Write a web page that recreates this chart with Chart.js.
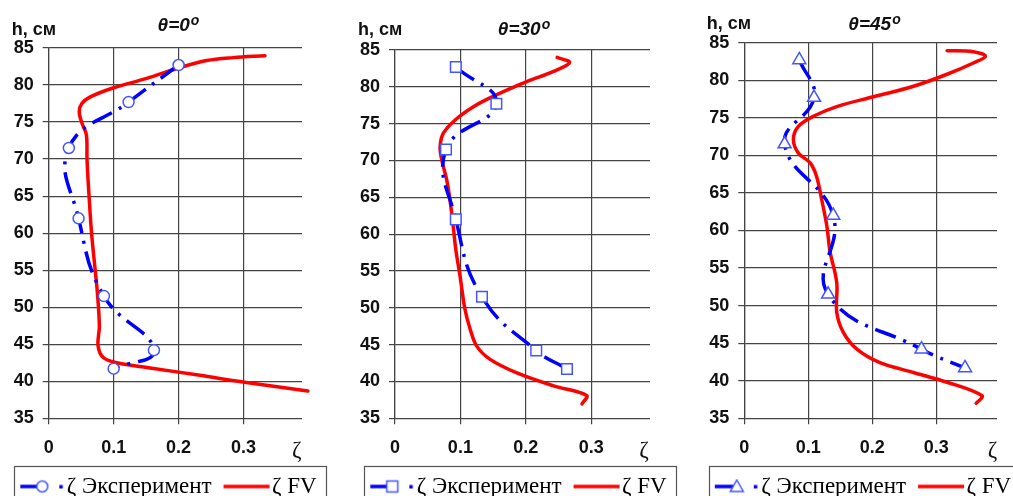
<!DOCTYPE html>
<html>
<head>
<meta charset="utf-8">
<script src="https://cdn.jsdelivr.net/npm/chart.js@4.4.1/dist/chart.umd.min.js"></script>
<style>
html, body { margin: 0; padding: 0; background: #fff; }
body { width: 1013px; height: 496px; overflow: hidden; position: relative; }
canvas { position: absolute; top: 0; }
</style>
</head>
<body>
<canvas id="p0" width="350" height="508" style="left:-10px"></canvas>
<canvas id="p30" width="350" height="508" style="left:340px"></canvas>
<canvas id="p45" width="339" height="508" style="left:690px"></canvas>
<script>
// heights of the measuring points, cm
const expH = [82.7, 77.7, 71.5, 62, 51.5, 44.2, 41.7];

// experiment, zeta at each height
const expZeta0 = [0.200, 0.123, 0.031, 0.046, 0.085, 0.162, 0.100];
const expZeta30 = [0.093, 0.155, 0.078, 0.093, 0.133, 0.216, 0.263];
const expZeta45 = [0.086, 0.109, 0.063, 0.139, 0.131, 0.277, 0.345];

// FV computation
const fvZeta0 = [0.333, 0.284, 0.243, 0.200, 0.151, 0.099, 0.064, 0.051, 0.047, 0.051, 0.058, 0.059, 0.0625, 0.066, 0.071, 0.075, 0.078, 0.076, 0.084, 0.105, 0.156, 0.233, 0.299, 0.399];
const fvH0 = [83.96, 83.7, 83.3, 82.3, 80.9, 79.6, 78.4, 77.5, 76.4, 74.9, 73.3, 69.9, 64.5, 60, 55.5, 51.9, 47.4, 44.8, 43.2, 42.5, 41.8, 40.8, 39.9, 38.7];

const fvZeta30 = [0.248, 0.267, 0.2425, 0.2015, 0.150, 0.120, 0.092, 0.074, 0.069, 0.0715, 0.079, 0.084, 0.089, 0.093, 0.0995, 0.107, 0.115, 0.125, 0.1455, 0.1855, 0.2425, 0.293, 0.286];
const fvH30 = [84.0, 83.3, 82.1, 80.7, 78.7, 77.3, 75.5, 73.7, 71.9, 70.1, 67.4, 64.7, 61.1, 57.9, 54.3, 49.8, 47.1, 44.8, 43.0, 41.2, 39.4, 38.1, 36.95];

const fvZeta45 = [0.317, 0.358, 0.377, 0.358, 0.317, 0.2645, 0.202, 0.1445, 0.108, 0.0845, 0.0767, 0.0845, 0.103, 0.113, 0.121, 0.129, 0.134, 0.1445, 0.1445, 0.155, 0.176, 0.212, 0.2645, 0.317, 0.3715, 0.3625];
const fvH45 = [83.94, 83.8, 83.2, 82.3, 80.8, 79.2, 77.8, 76.5, 75.2, 73.85, 72.1, 70.3, 69.0, 67.2, 64.1, 60.6, 57.2, 53.05, 49.1, 46.4, 44.2, 42.4, 41.1, 39.8, 38.0, 37.0];

const xTickValues = [0, 0.1, 0.2, 0.3];
const legendTexts = ['ζ Эксперимент', 'ζ FV'];

const BLUE = '#0000ff';
const MARK = '#4455ff';
const RED = '#ff0000';
const GRID = '#444';
const SANS = '"Liberation Sans", Arial, sans-serif';
const SERIF = '"Liberation Serif", "Times New Roman", serif';

function toPoints(xs, ys) {
    return xs.map((x, i) => ({ x: x, y: ys[i] }));
}

function drawMarker(ctx, style, x, y) {
    ctx.fillStyle = '#fff';
    ctx.strokeStyle = MARK;
    ctx.lineWidth = 1.5;
    ctx.beginPath();
    if (style === 'circle') {
        ctx.arc(x, y, 5.5, 0, Math.PI * 2);
    } else if (style === 'rect') {
        ctx.rect(x - 5.5, y - 5.5, 11, 11);
    } else {
        ctx.moveTo(x, y - 6.5);
        ctx.lineTo(x + 6.5, y + 5);
        ctx.lineTo(x - 6.5, y + 5);
        ctx.closePath();
    }
    ctx.fill();
    ctx.stroke();
}

// legend symbols: image spans 11px left of the item box to the text start
function legendImage(kind, marker) {
    const c = document.createElement('canvas');
    c.width = 64;
    c.height = 16;
    const g = c.getContext('2d');
    if (kind === 'exp') {
        g.strokeStyle = BLUE;
        g.lineWidth = 3.5;
        g.beginPath();
        g.moveTo(18, 8);
        g.lineTo(40, 8);
        g.stroke();
        drawMarker(g, marker, 40, 8);
        g.fillStyle = BLUE;
        g.fillRect(57, 6.5, 3.5, 3.5);
    } else {
        g.strokeStyle = RED;
        g.lineWidth = 3.5;
        g.beginPath();
        g.moveTo(16, 8);
        g.lineTo(62, 8);
        g.stroke();
    }
    return c;
}

const decoPlugin = {
    id: 'deco',
    afterDraw(chart, args, opts) {
        const ctx = chart.ctx;
        ctx.save();
        ctx.fillStyle = '#111';
        ctx.textAlign = 'left';
        ctx.textBaseline = 'alphabetic';
        ctx.font = 'bold 18px ' + SANS;
        ctx.fillText('h, см', opts.hx, opts.hy);

        const main = 'θ=' + opts.angle;
        ctx.font = 'italic bold 19px ' + SANS;
        const wMain = ctx.measureText(main).width;
        ctx.font = 'italic bold 14px ' + SANS;
        const wSup = ctx.measureText('o').width;
        const x0 = opts.tx - (wMain + wSup) / 2;
        ctx.font = 'italic bold 19px ' + SANS;
        ctx.fillText(main, x0, opts.ty);
        ctx.font = 'italic bold 14px ' + SANS;
        ctx.fillText('o', x0 + wMain + 1, opts.ty - 6);

        const boxes = chart.legend.legendHitBoxes;
        if (boxes && boxes.length) {
            const first = boxes[0];
            const last = boxes[boxes.length - 1];
            const left = Math.round(first.left + 1) + 0.5;
            const top = Math.round(first.top - 9) + 0.5;
            const right = Math.round(last.left + last.width + 9) + 0.5;
            ctx.strokeStyle = '#555';
            ctx.lineWidth = 1.2;
            ctx.strokeRect(left, top, right - left, 60);
        }
        ctx.restore();
    }
};

function makePanel(id, cfg) {
    const zetaPos = cfg.zetaPos;
    const ctx = document.getElementById(id).getContext('2d');
    const imgExp = legendImage('exp', cfg.marker);
    const imgFv = legendImage('fv');
    return new Chart(ctx, {
        type: 'scatter',
        data: {
            datasets: [{
                label: legendTexts[0],
                data: toPoints(cfg.expZeta, expH),
                showLine: true,
                borderColor: BLUE,
                borderWidth: 3.5,
                borderDash: [22, 8, 3, 8],
                borderCapStyle: 'butt',
                tension: 0.45,
                pointStyle: cfg.marker,
                pointRadius: cfg.radius,
                pointBackgroundColor: '#fff',
                pointBorderColor: MARK,
                pointBorderWidth: 1.5,
                order: 0
            }, {
                label: legendTexts[1],
                data: toPoints(cfg.fvZeta, cfg.fvH),
                showLine: true,
                borderColor: RED,
                borderWidth: 3.5,
                borderCapStyle: 'round',
                tension: 0.35,
                pointRadius: 0,
                clip: false,
                order: 1
            }]
        },
        options: {
            responsive: false,
            animation: false,
            layout: { padding: { top: cfg.top, left: 0, right: 0, bottom: 0 } },
            scales: {
                x: {
                    type: 'linear',
                    min: 0,
                    max: cfg.xMax,
                    afterBuildTicks: (scale) => {
                        scale.ticks = xTickValues.concat([zetaPos]).map(v => ({ value: v }));
                    },
                    afterFit: (scale) => { scale.height = 49.7; },
                    ticks: {
                        autoSkip: false,
                        maxRotation: 0,
                        padding: 13,
                        color: '#111',
                        callback: (v) => v === zetaPos ? 'ζ' : String(v),
                        font: (c) => (c.tick && c.tick.value === zetaPos)
                            ? { family: SERIF, size: 23 }
                            : { family: SANS, size: 18, weight: 'bold' }
                    },
                    grid: {
                        color: (c) => (c.tick && c.tick.value === zetaPos) ? 'rgba(0,0,0,0)' : GRID,
                        lineWidth: 1.2,
                        tickLength: 6
                    },
                    border: { display: false }
                },
                y: {
                    type: 'linear',
                    min: 35,
                    max: 85,
                    afterFit: (scale) => { scale.width = cfg.yWidth; },
                    ticks: {
                        stepSize: 5,
                        padding: 9,
                        color: '#111',
                        font: { family: SANS, size: 18, weight: 'bold' }
                    },
                    grid: { color: GRID, lineWidth: 1.2, tickLength: 6 },
                    border: { color: GRID, width: 1.2 }
                },
                yRight: {
                    type: 'linear',
                    position: 'right',
                    afterFit: (scale) => { scale.width = cfg.rightWidth; },
                    ticks: { display: false },
                    grid: { display: false },
                    border: { display: false }
                }
            },
            plugins: {
                tooltip: { enabled: false },
                title: { display: false },
                legend: {
                    position: 'bottom',
                    labels: {
                        usePointStyle: true,
                        pointStyleWidth: 42,
                        padding: 7,
                        color: '#000',
                        font: { family: SERIF, size: 23 },
                        generateLabels: () => [
                            { text: legendTexts[0], pointStyle: imgExp, fillStyle: 'rgba(0,0,0,0)', strokeStyle: 'rgba(0,0,0,0)', lineWidth: 0, hidden: false, datasetIndex: 0, fontColor: '#000' },
                            { text: legendTexts[1], pointStyle: imgFv, fillStyle: 'rgba(0,0,0,0)', strokeStyle: 'rgba(0,0,0,0)', lineWidth: 0, hidden: false, datasetIndex: 1, fontColor: '#000' }
                        ]
                    }
                },
                deco: cfg.deco
            }
        },
        plugins: [decoPlugin]
    });
}

makePanel('p0', {
    expZeta: expZeta0, fvZeta: fvZeta0, fvH: fvH0,
    marker: 'circle', radius: 5.5,
    top: 48, yWidth: 58.7, rightWidth: 38, xMax: 0.39, zetaPos: 0.382,
    deco: { angle: '0', hx: 21.7, hy: 35, tx: 188, ty: 31 }
});
makePanel('p30', {
    expZeta: expZeta30, fvZeta: fvZeta30, fvH: fvH30,
    marker: 'rect', radius: 7.5,
    top: 50, yWidth: 55, rightWidth: 40, xMax: 0.39, zetaPos: 0.381,
    deco: { angle: '30', hx: 18, hy: 35, tx: 183.5, ty: 35 }
});
makePanel('p45', {
    expZeta: expZeta45, fvZeta: fvZeta45, fvH: fvH45,
    marker: 'triangle', radius: 7.5,
    top: 42.7, yWidth: 54.3, rightWidth: 32, xMax: 0.395, zetaPos: 0.388,
    deco: { angle: '45', hx: 16.7, hy: 28.5, tx: 184, ty: 29.5 }
});
</script>
</body>
</html>
